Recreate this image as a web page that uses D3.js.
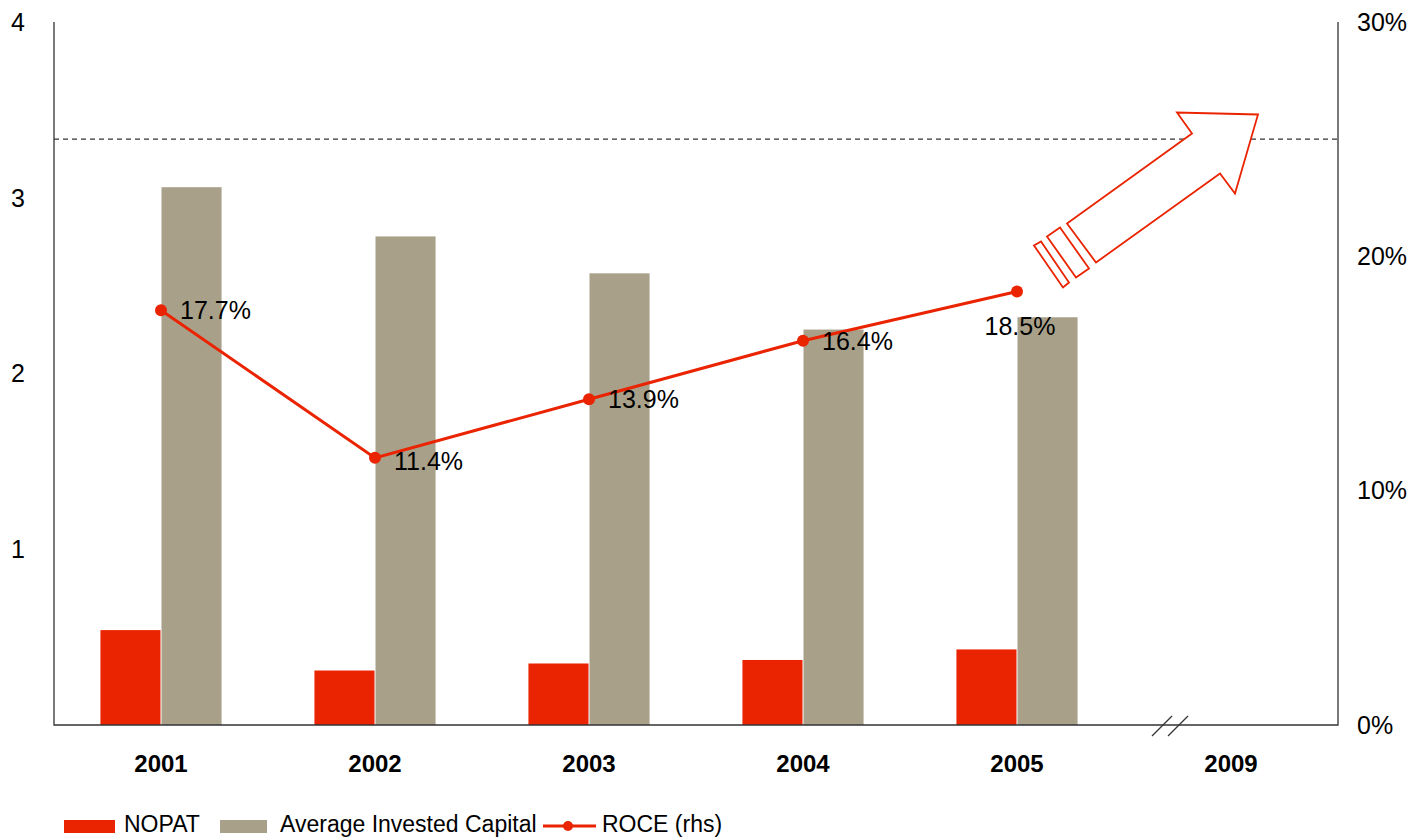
<!DOCTYPE html>
<html>
<head>
<meta charset="utf-8">
<script src="https://cdn.jsdelivr.net/npm/d3@7"></script>
<style>
  body { margin: 0; background: #fff; }
  svg text { font-family: "Liberation Sans", Arial, sans-serif; fill: #000; }
</style>
</head>
<body>
<svg id="chart" width="1413" height="840"></svg>
<script>
"use strict";
// data
const years = ["2001", "2002", "2003", "2004", "2005", "2009"];
const nopat = [0.54, 0.31, 0.35, 0.37, 0.43];
const investedCapital = [3.06, 2.78, 2.57, 2.25, 2.32];
const roce = [17.7, 11.4, 13.9, 16.4, 18.5];
const roceLabels = ["17.7%", "11.4%", "13.9%", "16.4%", "18.5%"];
const leftTicks = [1, 2, 3, 4];
const rightTicks = [0, 10, 20, 30];
const targetRoce = 25;

const RED = "#ea2300", GREY = "#a9a08a", AXIS = "#333";
const m = { left: 54, right: 1338, top: 22, bottom: 725 };
const svg = d3.select("#chart");

const x = d3.scaleBand().domain(years).range([m.left, m.right]);
const yL = d3.scaleLinear().domain([0, 4]).range([m.bottom, m.top]);
const yR = d3.scaleLinear().domain([0, 30]).range([m.bottom, m.top]);
const groupW = x.bandwidth() * 0.566;
const x1 = d3.scaleBand().domain(["nopat", "aic"]).range([0, groupW]);
const cx = d => x(d) + x.bandwidth() / 2;

// bars
const barData = years.slice(0, 5).map((yr, i) => ({ yr, nopat: nopat[i], aic: investedCapital[i] }));
const groups = svg.append("g").selectAll("g").data(barData).join("g")
    .attr("transform", d => `translate(${cx(d.yr) - groupW / 2},0)`);
groups.append("rect")
    .attr("x", x1("nopat")).attr("width", x1.bandwidth() - 0.5)
    .attr("y", d => yL(d.nopat)).attr("height", d => yL(0) - yL(d.nopat))
    .attr("fill", RED);
groups.append("rect")
    .attr("x", x1("aic") + 0.5).attr("width", x1.bandwidth() - 0.5)
    .attr("y", d => yL(d.aic)).attr("height", d => yL(0) - yL(d.aic))
    .attr("fill", GREY);

// dashed target line
svg.append("line")
    .attr("x1", m.left).attr("x2", m.right)
    .attr("y1", yR(targetRoce)).attr("y2", yR(targetRoce))
    .attr("stroke", "#333").attr("stroke-width", 1.3).attr("stroke-dasharray", "5,4");

// the arrow (annotation, anchored to the 2005 ROCE point)
const ax = cx("2005"), ay = yR(roce[4]);
const arrow = svg.append("g").attr("transform", `translate(${ax},${ay})`)
    .attr("fill", "#fff").attr("stroke", RED).attr("stroke-width", 1.8).attr("stroke-linejoin", "miter");
arrow.append("path").attr("d", "M50,-68 L175,-158 L160,-179 L241,-177 L218,-98 L203,-118 L79,-29 Z");
arrow.append("path").attr("d", "M30,-55 L43,-64 L72,-23 L59,-14 Z");
arrow.append("path").attr("d", "M17,-46 L24,-50 L52,-9 L46,-4 Z");

// axes lines
svg.append("path")
    .attr("d", `M${m.left},${m.top}V${m.bottom}H${m.right}V${m.top}`)
    .attr("fill", "none").attr("stroke", AXIS).attr("stroke-width", 1.3);
// axis break marks
const bx = x("2009");
[28, 44].forEach(o => svg.append("line")
    .attr("x1", bx + o).attr("y1", m.bottom + 11).attr("x2", bx + o + 20).attr("y2", m.bottom - 9)
    .attr("stroke", AXIS).attr("stroke-width", 1.2));

// tick labels
svg.append("g").selectAll("text").data(leftTicks).join("text")
    .attr("x", 18).attr("y", d => yL(d)).attr("dy", "0.35em")
    .attr("text-anchor", "middle").attr("font-size", 25).text(d => d);
svg.append("g").selectAll("text").data(rightTicks).join("text")
    .attr("x", 1357).attr("y", d => yR(d)).attr("dy", "0.35em")
    .attr("font-size", 25).text(d => d + "%");
svg.append("g").selectAll("text").data(years).join("text")
    .attr("x", d => cx(d)).attr("y", 772)
    .attr("text-anchor", "middle").attr("font-size", 24).attr("font-weight", "bold").text(d => d);

// ROCE line
const rocePts = roce.map((v, i) => [cx(years[i]), yR(v)]);
svg.append("path").attr("d", d3.line()(rocePts))
    .attr("fill", "none").attr("stroke", RED).attr("stroke-width", 3);
svg.append("g").selectAll("circle").data(rocePts).join("circle")
    .attr("cx", d => d[0]).attr("cy", d => d[1]).attr("r", 6).attr("fill", RED);
svg.append("g").selectAll("text").data(rocePts).join("text")
    .attr("x", (d, i) => i === 4 ? d[0] + 3 : d[0] + 19)
    .attr("y", (d, i) => i === 4 ? d[1] + 44 : d[1] + (i === 1 ? 12 : 9))
    .attr("text-anchor", (d, i) => i === 4 ? "middle" : "start")
    .attr("font-size", 25).text((d, i) => roceLabels[i]);

// legend
const lg = svg.append("g").attr("font-size", 23);
lg.append("rect").attr("x", 64).attr("y", 820).attr("width", 51).attr("height", 13).attr("fill", RED);
lg.append("text").attr("x", 124).attr("y", 832).text("NOPAT");
lg.append("rect").attr("x", 220).attr("y", 820).attr("width", 47).attr("height", 13).attr("fill", GREY);
lg.append("text").attr("x", 280).attr("y", 832).text("Average Invested Capital");
lg.append("line").attr("x1", 543).attr("x2", 596).attr("y1", 826).attr("y2", 826).attr("stroke", RED).attr("stroke-width", 3);
lg.append("circle").attr("cx", 568).attr("cy", 826).attr("r", 5).attr("fill", RED);
lg.append("text").attr("x", 602).attr("y", 832).text("ROCE (rhs)");
</script>
</body>
</html>
